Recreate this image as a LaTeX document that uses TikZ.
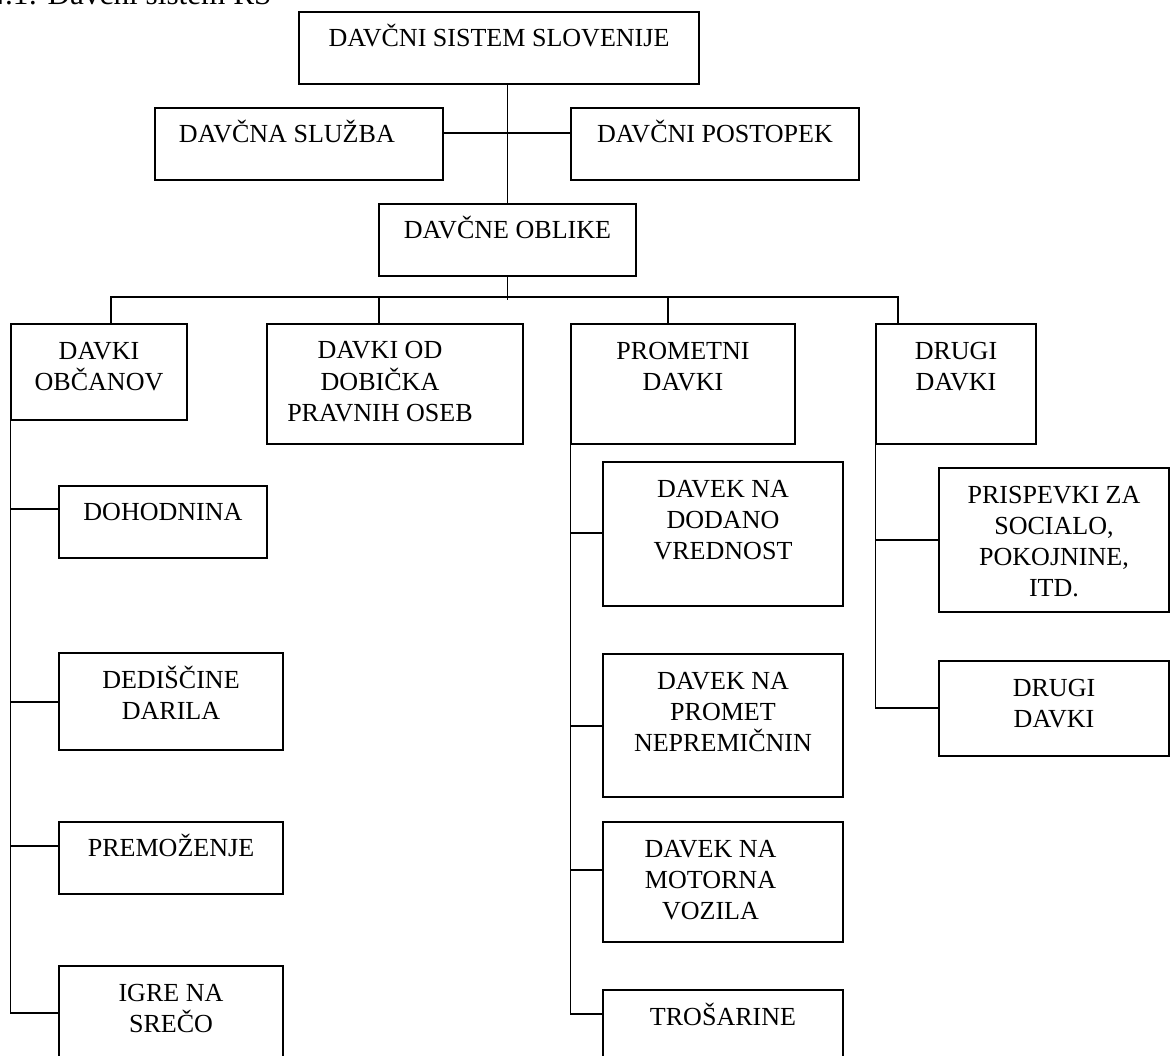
\documentclass[tikz,border=0pt]{standalone}
\usepackage{fontspec}
\setmainfont{Liberation Serif}
\usetikzlibrary{fit}
\newcommand\capstrut{\rule{0pt}{11.5pt}}
\tikzset{
  box/.style={draw,line width=.6pt,inner sep=0pt},
  txt/.style={anchor=north,align=center,inner sep=0pt,font=\fontsize{12.5}{14.9}\selectfont},
  link/.style={line width=.55pt},
  bus/.style={line width=1pt},
}

\begin{document}
\begin{tikzpicture}[x=.48pt,y=-.48pt]
  \useasboundingbox (0,0) rectangle (1170,1056);
  \clip (0,0) rectangle (1170,1056);
  \node[anchor=base east,inner sep=0pt,font=\fontsize{15}{18}\selectfont] (caption) at (272,5) {4.1: Davčni sistem RS};

  % ---- top: system, service, procedure, forms ----
  \node[box,fit={(299,12) (699,84)}] (sistem) {};
  \node[txt] (sistem-t) at ([yshift=-5.4pt]sistem.north) {\capstrut DAVČNI SISTEM SLOVENIJE};
  \node[box,fit={(155,108) (443,180)}] (sluzba) {};
  \node[txt] (sluzba-t) at ([xshift=-5.8pt,yshift=-5.4pt]sluzba.north) {\capstrut DAVČNA SLUŽBA};
  \node[box,fit={(571,108) (859,180)}] (postopek) {};
  \node[txt] (postopek-t) at ([yshift=-5.4pt]postopek.north) {\capstrut DAVČNI POSTOPEK};
  \node[box,fit={(379,204) (636,276)}] (oblike) {};
  \node[txt] (oblike-t) at ([yshift=-5.4pt]oblike.north) {\capstrut DAVČNE OBLIKE};

  \coordinate (mid) at (507,133);
  \draw[link] (oblike.north) -- (oblike.north |- sistem.south);
  \draw[bus] (mid -| sluzba.east) -- (mid -| postopek.west);

  % ---- groups of taxes ----
  \node[box,fit={(11,324) (187,420)}] (obcani) {};
  \node[txt] (obcani-t) at ([yshift=-5.4pt]obcani.north) {\capstrut DAVKI\\OBČANOV};
  \node[box,fit={(267,324) (523,444)}] (dobicek) {};
  \node[txt] (dobicek-t) at ([xshift=-7.2pt,yshift=-5.4pt]dobicek.north) {\capstrut DAVKI OD\\DOBIČKA\\PRAVNIH OSEB};
  \node[box,fit={(571,324) (795,444)}] (prometni) {};
  \node[txt] (prometni-t) at ([yshift=-5.4pt]prometni.north) {\capstrut PROMETNI\\DAVKI};
  \node[box,fit={(876,324) (1036,444)}] (drugi) {};
  \node[txt] (drugi-t) at ([yshift=-5.4pt]drugi.north) {\capstrut DRUGI\\DAVKI};

  \coordinate (b1) at (111,297);
  \coordinate (b2) at (379,297);
  \coordinate (b3) at (668,297);
  \coordinate (b4) at (898,297);
  \draw[link] (oblike.south) -- (oblike.south |- 0,300);
  \draw[bus] (b1 |- obcani.north) -- (b1) -- (b4) -- (b4 |- drugi.north);
  \draw[bus] (b2) -- (b2 |- dobicek.north);
  \draw[bus] (b3) -- (b3 |- prometni.north);

  % ---- citizens ----
  \node[box,fit={(59,486) (267,558)}] (dohodnina) {};
  \node[txt] (dohodnina-t) at ([yshift=-5pt]dohodnina.north) {\capstrut DOHODNINA};
  \node[box,fit={(59,653) (283,750)}] (dediscine) {};
  \node[txt] (dediscine-t) at ([yshift=-5.4pt]dediscine.north) {\capstrut DEDIŠČINE\\DARILA};
  \node[box,fit={(59,822) (283,894)}] (premozenje) {};
  \node[txt] (premozenje-t) at ([yshift=-5pt]premozenje.north) {\capstrut PREMOŽENJE};
  \node[box,fit={(59,966) (283,1080)}] (igre) {};
  \node[txt] (igre-t) at ([yshift=-5.4pt]igre.north) {\capstrut IGRE NA\\SREČO};

  \draw[link] (obcani.south west) |- (igre.west |- 0,1013);
  \foreach \c/\y in {dohodnina/509,dediscine/702,premozenje/846}{
    \draw[link] (obcani.south west |- 0,\y) -- (\c.west |- 0,\y);
  }

  % ---- turnover ----
  \node[box,fit={(603,462) (843,606)}] (ddv) {};
  \node[txt] (ddv-t) at ([yshift=-5.4pt]ddv.north) {\capstrut DAVEK NA\\DODANO\\VREDNOST};
  \node[box,fit={(603,654) (843,797)}] (nepremicnine) {};
  \node[txt] (nepremicnine-t) at ([yshift=-5.4pt]nepremicnine.north) {\capstrut DAVEK NA\\PROMET\\NEPREMIČNIN};
  \node[box,fit={(603,822) (843,942)}] (vozila) {};
  \node[txt] (vozila-t) at ([xshift=-6pt,yshift=-5.4pt]vozila.north) {\capstrut DAVEK NA\\MOTORNA\\VOZILA};
  \node[box,fit={(603,990) (843,1080)}] (trosarine) {};
  \node[txt] (trosarine-t) at ([yshift=-5.4pt]trosarine.north) {\capstrut TROŠARINE};

  \draw[link] (prometni.south west) |- (trosarine.west |- 0,1014);
  \foreach \c/\y in {ddv/533,nepremicnine/726,vozila/870}{
    \draw[link] (prometni.south west |- 0,\y) -- (\c.west |- 0,\y);
  }

  % ---- other ----
  \node[box,fit={(939,468) (1169,612)}] (prispevki) {};
  \node[txt] (prispevki-t) at ([yshift=-5.4pt]prispevki.north) {\capstrut PRISPEVKI ZA\\SOCIALO,\\POKOJNINE,\\ITD.};
  \node[box,fit={(939,661) (1169,756)}] (ostali) {};
  \node[txt] (ostali-t) at ([yshift=-5.4pt]ostali.north) {\capstrut DRUGI\\DAVKI};

  \draw[link] (drugi.south west) |- (ostali.west |- 0,708);
  \draw[link] (drugi.south west |- 0,540) -- (prispevki.west |- 0,540);
\end{tikzpicture}
\end{document}
